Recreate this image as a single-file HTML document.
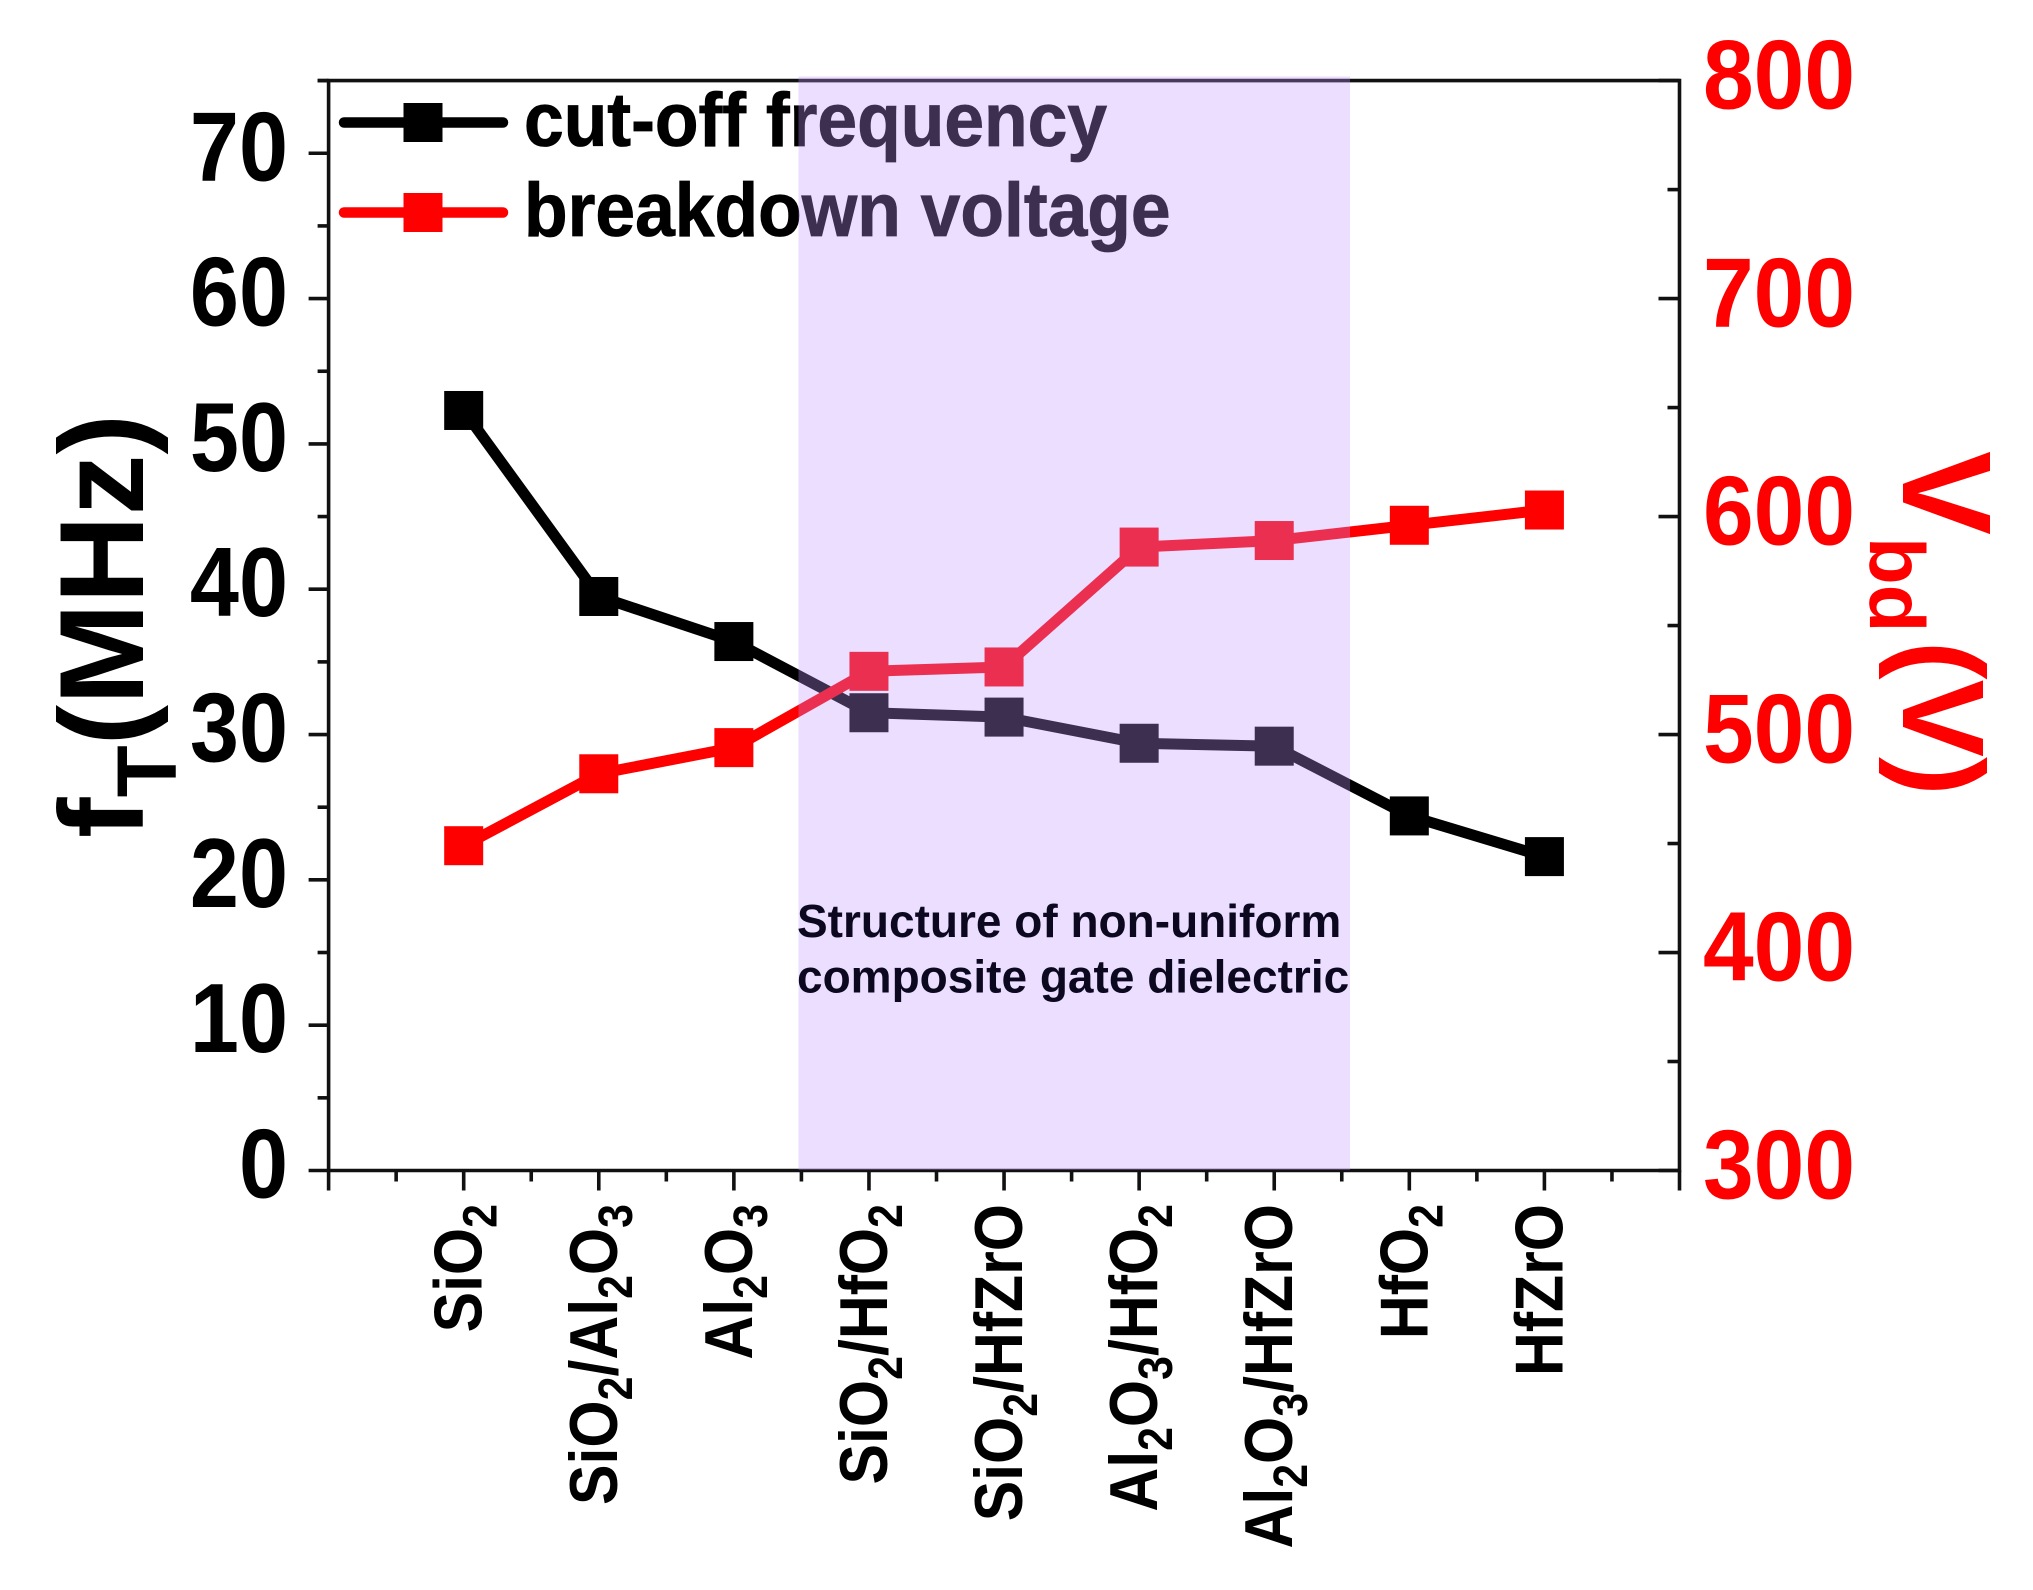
<!DOCTYPE html>
<html lang="en">
<head>
<meta charset="utf-8">
<title>Cut-off frequency and breakdown voltage by gate dielectric</title>
<style>
html,body{margin:0;padding:0;background:#fff;width:2033px;height:1590px;overflow:hidden}
svg{display:block;font-family:"Liberation Sans",Arial,sans-serif;font-weight:bold}
</style>
</head>
<body>
<svg id="chart" width="2033" height="1590" viewBox="0 0 2033 1590" xmlns="http://www.w3.org/2000/svg">
  <g id="axes"></g>
  <g id="series"></g>
  <g id="legend">
    <g>
      <line x1="344" y1="122.5" x2="503" y2="122.5" stroke="#000" stroke-width="10.5" stroke-linecap="round"/>
      <rect x="403.5" y="103" width="39" height="39" fill="#000"/>
      <text transform="translate(524,146) scale(1,1.06)" font-size="71.4" fill="#000" stroke="#000" stroke-width="0.8">cut-off frequency</text>
    </g>
    <g>
      <line x1="344" y1="212.5" x2="503" y2="212.5" stroke="#f00" stroke-width="10.5" stroke-linecap="round"/>
      <rect x="403.5" y="193" width="39" height="39" fill="#f00"/>
      <text transform="translate(524,236) scale(1,1.06)" font-size="71.4" fill="#000" stroke="#000" stroke-width="0.8">breakdown voltage</text>
    </g>
  </g>
  <rect x="798.5" y="76.5" width="551.5" height="1093.5" fill="rgb(191,150,255)" fill-opacity="0.314"/>
  <g font-size="46" fill="#0c0820">
    <text x="797" y="937">Structure of non-uniform</text>
    <text x="797" y="992.5">composite gate dielectric</text>
  </g>
  <text transform="translate(143,838) rotate(-90) scale(1.015,1)" font-size="120" fill="#000">f<tspan font-size="84" dy="33">T</tspan><tspan dy="-33">(MHz)</tspan></text>
  <text transform="translate(1903,451) rotate(90)" font-size="126" fill="#f00">V<tspan font-size="78" dy="33" x="86">bd</tspan><tspan font-size="116" dy="-33" x="190">(V)</tspan></text>
  <g id="tick-labels"></g>
</svg>
<script>
// ---- chart data ----
const categories = ["SiO2","SiO2/Al2O3","Al2O3","SiO2/HfO2","SiO2/HfZrO","Al2O3/HfO2","Al2O3/HfZrO","HfO2","HfZrO"];
const categoryIndex = [1,2,3,4,5,6,7,8,9];
const cutOffFrequency = [52.3,39.5,36.4,31.5,31.2,29.4,29.2,24.4,21.6];
const breakdownVoltage = [449,482,494,529,531,586,589,596,603];
const leftMajorTicks = [0,10,20,30,40,50,60,70];
const leftMinorTicks = [5,15,25,35,45,55,65,75];
const rightMajorTicks = [300,400,500,600,700,800];
const rightMinorTicks = [350,450,550,650,750];
const xMajorTicks = [0,1,2,3,4,5,6,7,8,9,10];
const xMinorTicks = [0.5,1.5,2.5,3.5,4.5,5.5,6.5,7.5,8.5,9.5];

// ---- frame and scales ----
const plotLeft = 328.6, plotRight = 1679.5, plotTop = 80.6, plotBottom = 1170.5;
const xDomain = [0,10], leftDomain = [0,75], rightDomain = [300,800];
function xScale(v){ return plotLeft + (v - xDomain[0]) / (xDomain[1] - xDomain[0]) * (plotRight - plotLeft); }
function leftScale(v){ return plotBottom - (v - leftDomain[0]) / (leftDomain[1] - leftDomain[0]) * (plotBottom - plotTop); }
function rightScale(v){ return plotBottom - (v - rightDomain[0]) / (rightDomain[1] - rightDomain[0]) * (plotBottom - plotTop); }

const NS = "http://www.w3.org/2000/svg";
function make(tag, attrs, parent){
  const el = document.createElementNS(NS, tag);
  for (const k in attrs) el.setAttribute(k, attrs[k]);
  parent.appendChild(el);
  return el;
}
const axes = document.getElementById("axes");
const series = document.getElementById("series");
const labels = document.getElementById("tick-labels");
const axisStyle = {stroke:"#111", "stroke-width":3.6, fill:"none"};

// axis frame
const frame = make("path", Object.assign({d:"M"+plotLeft+" "+plotBottom+"V"+plotTop+"H"+plotRight+"V"+plotBottom+"Z"}, axisStyle), axes);



// left axis
leftMajorTicks.forEach(function(v){
  const y = leftScale(v);
  const t = make("line", Object.assign({x1:plotLeft-20, x2:plotLeft, y1:y, y2:y}, axisStyle), axes);
  
  
  const l = make("text", {transform:"translate(288,"+(y+27)+") scale(0.9,1)", "text-anchor":"end", "font-size":98, fill:"#000"}, labels);
  
  
  l.textContent = v;
});
leftMinorTicks.forEach(function(v){
  const y = leftScale(v);
  const t = make("line", Object.assign({x1:plotLeft-11, x2:plotLeft, y1:y, y2:y}, axisStyle), axes);
  
  
});

// right axis
rightMajorTicks.forEach(function(v){
  const y = rightScale(v);
  const t = make("line", Object.assign({x1:plotRight-21, x2:plotRight, y1:y, y2:y}, axisStyle), axes);
  
  
  const l = make("text", {transform:"translate(1703,"+(y+28)+") scale(0.93,1)", "font-size":98, fill:"#f00"}, labels);
  
  
  l.textContent = v;
});
rightMinorTicks.forEach(function(v){
  const y = rightScale(v);
  const t = make("line", Object.assign({x1:plotRight-12, x2:plotRight, y1:y, y2:y}, axisStyle), axes);
  
  
});

// x axis
xMajorTicks.forEach(function(v){
  const x = xScale(v);
  const t = make("line", Object.assign({x1:x, x2:x, y1:plotBottom, y2:plotBottom+20}, axisStyle), axes);
  
  
});
xMinorTicks.forEach(function(v){
  const x = xScale(v);
  const t = make("line", Object.assign({x1:x, x2:x, y1:plotBottom, y2:plotBottom+11}, axisStyle), axes);
  
  
});
const leftStub = make("line", Object.assign({x1:plotLeft-11, x2:plotLeft, y1:plotTop, y2:plotTop}, axisStyle), axes);



// category labels, digits set as subscripts
categories.forEach(function(name, i){
  const x = xScale(categoryIndex[i]);
  const l = make("text", {transform:"translate("+(x+18)+",1204) rotate(-90) scale(0.893,1)", "text-anchor":"end", "font-size":68, fill:"#000"}, labels);
  
  
  const parts = name.match(/[0-9]|[^0-9]+/g);
  let lowered = false;
  parts.forEach(function(p){
    const isDigit = /[0-9]/.test(p);
    const ts = make("tspan", {}, l);
    
    
    if (isDigit) { ts.setAttribute("font-size", 48); ts.setAttribute("dy", 15); lowered = true; }
    else if (lowered) { ts.setAttribute("dy", -15); lowered = false; }
    ts.textContent = p;
  });
});

// series lines and markers
function drawSeries(values, scale, color, name){
  const pts = values.map(function(v, i){ return xScale(categoryIndex[i]) + "," + scale(v); }).join(" ");
  const line = make("polyline", {points:pts, fill:"none", stroke:color, "stroke-width":11, "stroke-linejoin":"miter"}, series);
  
  
  values.forEach(function(v, i){
    const m = make("rect", {x:xScale(categoryIndex[i]) - 19.5, y:scale(v) - 19.5, width:39, height:39, fill:color}, series);
    
    
  });
}
drawSeries(cutOffFrequency, leftScale, "#000", "cut-off-frequency");
drawSeries(breakdownVoltage, rightScale, "#f00", "breakdown-voltage");
</script>
</body>
</html>
